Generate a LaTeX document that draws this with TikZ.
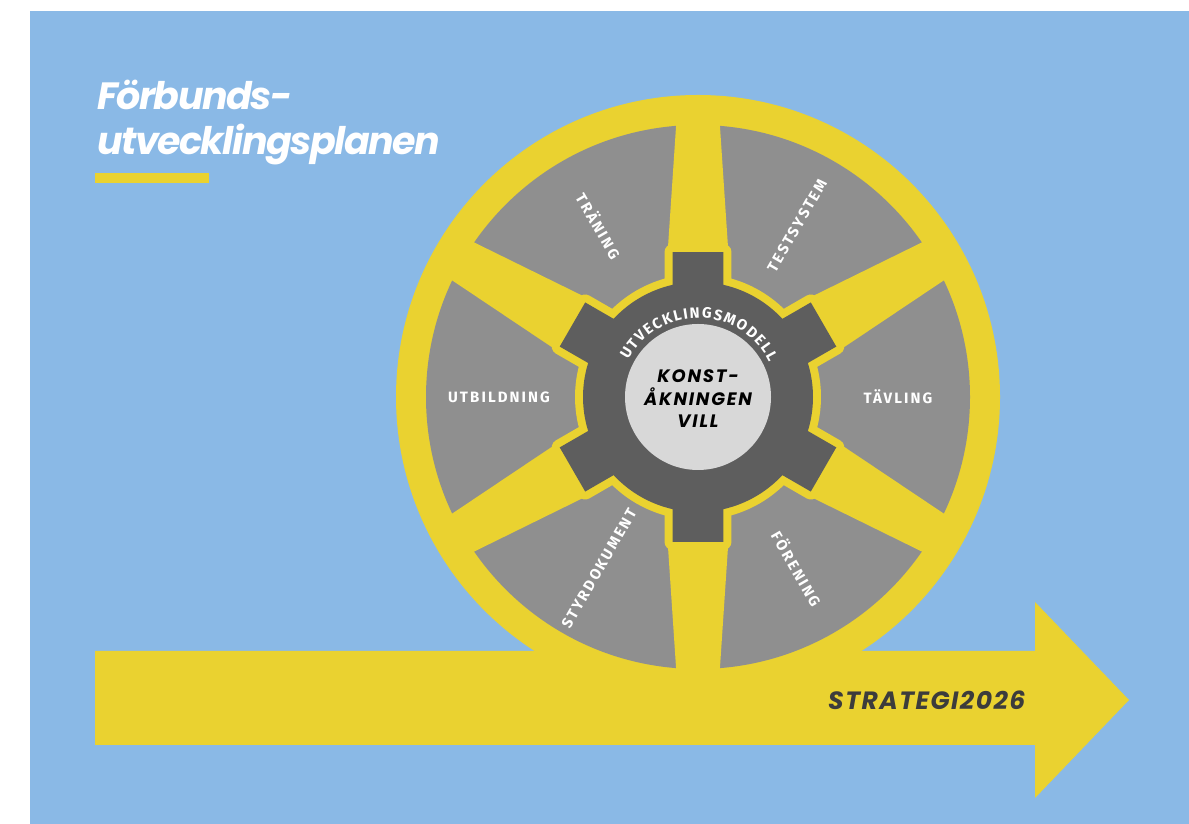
\documentclass[tikz,border=0pt]{standalone}
\usepackage{fontspec}
\setmainfont{Fira Sans}
\newfontfamily\titlefont{Poppins}[LetterSpace=-4]
\newfontfamily\strategyfont{Poppins}[LetterSpace=6]
\newfontfamily\labelfont{Fira Sans}[LetterSpace=14]
\newfontfamily\corefont{Poppins}[LetterSpace=10]
\newfontfamily\arcfont{Fira Sans}
\usetikzlibrary{decorations.text}

\definecolor{skyblue}{HTML}{8AB9E6}
\definecolor{wheelyellow}{HTML}{EAD230}
\definecolor{seggrey}{HTML}{8F8F8F}
\definecolor{geargrey}{HTML}{5E5E5E}
\definecolor{hubgrey}{HTML}{D8D8D8}
\definecolor{darktext}{HTML}{3C3C3C}

\begin{document}
\begin{tikzpicture}[x=1pt,y=1pt,
   titletext/.style={text=white,inner sep=0pt,
      font=\titlefont\bfseries\itshape\fontsize{38}{44}\selectfont},
   strategy/.style={text=darktext,inner sep=0pt,
      font=\strategyfont\bfseries\itshape\fontsize{25}{25}\selectfont},
   seglabel/.style={text=white,inner sep=0pt,
      font=\labelfont\bfseries\fontsize{15}{15}\selectfont},
   centertext/.style={text=black,align=center,inner sep=0pt,
      font=\corefont\bfseries\itshape\fontsize{18}{22.5}\selectfont}]

\useasboundingbox (0,0) rectangle (1189,824);
\fill[skyblue] (30,0) rectangle (1189,813);

\node[titletext,anchor=base west] (title1) at (97,714) {Förbunds-};
\node[titletext,anchor=base west] (title2) at ([yshift=-45pt]title1.base west) {utvecklingsplanen};
\fill[wheelyellow] (95,641) rectangle (209,651);

\fill[wheelyellow] (95,79) -- (1035,79) -- (1035,26) -- (1129,124)
   -- (1035,222) -- (1035,173) -- (95,173) -- cycle;
\node[strategy,anchor=base west] (strategy) at (828,114) {STRATEGI2026};

\begin{scope}[shift={(698,427)}]
  \fill[wheelyellow] (0,0) circle[radius=302];
  \fill[seggrey] (0,0) circle[radius=272];
  \foreach \a in {30,90,...,330}
    \fill[wheelyellow,rotate=\a] (0,-40) -- (300,-20) -- (300,20) -- (0,40) -- cycle;
  \fill[geargrey,preaction={draw=wheelyellow,line width=16pt,line join=round}]
    (17.2:115) \foreach \a in {30,90,...,330} {
      -- ({\a-12.8}:115) -- ({\a-9.97}:147.2) -- ({\a+9.97}:147.2) -- ({\a+12.8}:115)
      arc[start angle={\a+12.8},end angle={\a+47.2},radius=115]} -- cycle;
  \fill[hubgrey] (0,0) circle[radius=73];
  \node[centertext] (core) at (0,-2) {KONST-\\ÅKNINGEN\\VILL};
  \path[decorate,decoration={text along path,text align=fit to path,text color=white,
     text={|\arcfont\bfseries\fontsize{15}{15}\selectfont|UTVECKLINGSMODELL}}]
     (152:79) arc[start angle=152,end angle=26,radius=79];

  \node[seglabel,rotate=-60] (traning) at (120:198) {TRÄNING};
  \node[seglabel,rotate=60] (testsystem) at (60:198) {TESTSYSTEM};
  \node[seglabel] (tavling) at (0:200) {TÄVLING};
  \node[seglabel,rotate=-60] (forening) at (-60:198) {FÖRENING};
  \node[seglabel,rotate=60] (styrdokument) at (-120:198) {STYRDOKUMENT};
  \node[seglabel] (utbildning) at (180:199) {UTBILDNING};
\end{scope}

\end{tikzpicture}
\end{document}
